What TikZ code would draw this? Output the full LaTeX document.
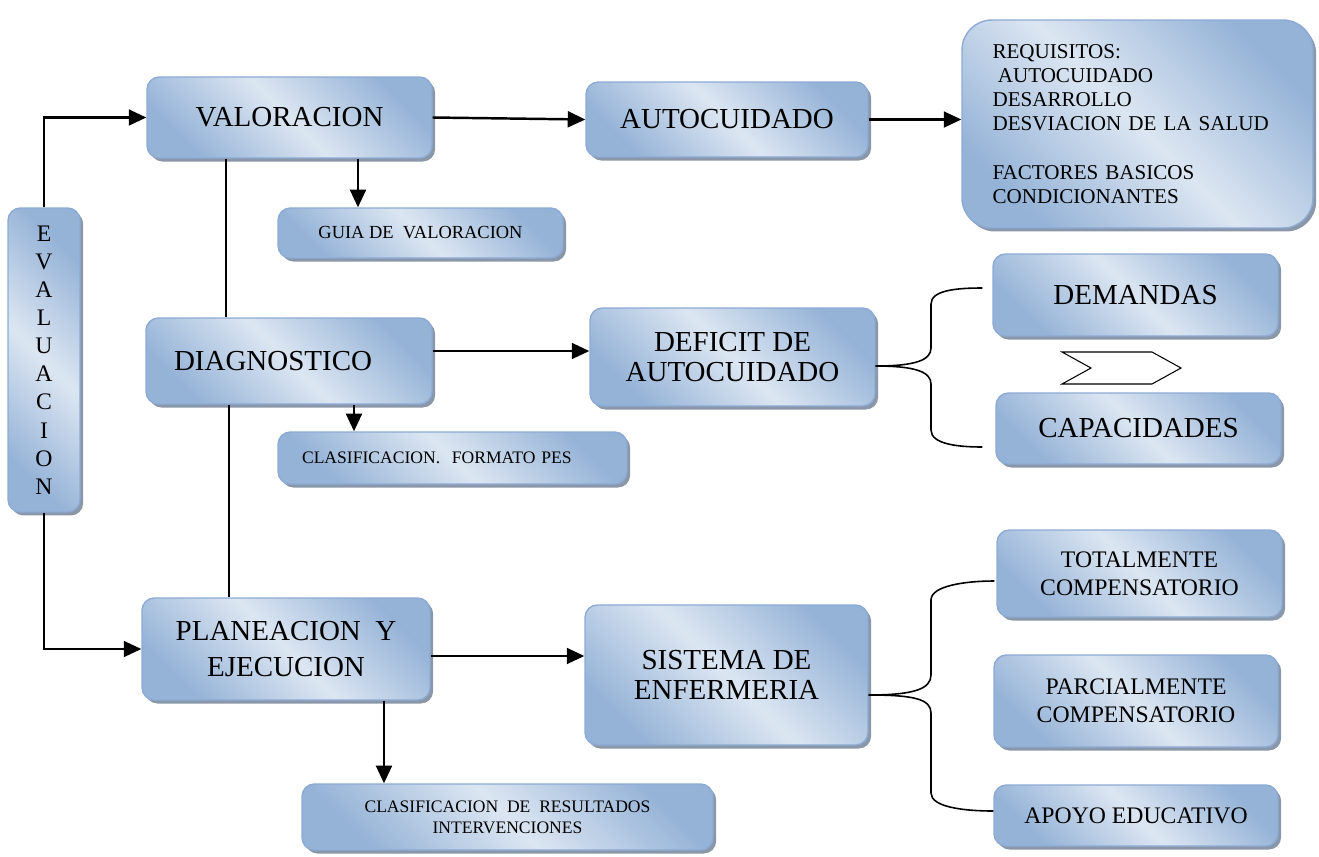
\documentclass[tikz,border=0pt]{standalone}
\usepackage{fontspec}
\setmainfont{Liberation Serif}
\usetikzlibrary{arrows.meta, positioning, shadows}

\definecolor{cajaoscuro}{HTML}{95B3D7}
\definecolor{cajaclaro}{HTML}{DCE6F2}
\definecolor{cajaborde}{HTML}{8DAAD4}
\definecolor{sombra}{HTML}{8A97A8}

\begin{document}
\begin{tikzpicture}[x=0.02cm,y=-0.02cm,
  caja/.style={draw=cajaborde, line width=0.8pt, rounded corners=7pt,
    left color=cajaoscuro, right color=cajaoscuro, middle color=cajaclaro, shading angle=135,
    drop shadow={shadow xshift=1.8pt, shadow yshift=-2pt, fill=sombra, opacity=1},
    align=center, inner sep=2pt},
  grande/.style={font=\fontsize{16.5}{17}\selectfont},
  media/.style={font=\fontsize{13.5}{16}\selectfont},
  chica/.style={font=\fontsize{10}{12}\selectfont},
  flecha/.style={-{Triangle[length=10pt,width=9pt]}, line width=1.4pt},
  linea/.style={line width=0.8pt},
  llave/.style={line width=0.9pt}]
\useasboundingbox (0,0) rectangle (1319,856);

% columna izquierda
\node[caja, media, minimum width=1.44cm, minimum height=6.08cm] (eval) at (44,360) {E\\V\\A\\L\\U\\A\\C\\I\\O\\N};
\node[caja, grande, minimum width=5.7cm, minimum height=1.62cm] (val) at (289.5,117.5) {VALORACION};
\node[caja, font=\fontsize{10.5}{12}\selectfont, minimum width=5.7cm, minimum height=1.0cm] (guia) at (420.5,233) {GUIA DE \ VALORACION};
\node[caja, grande, minimum width=5.72cm, minimum height=1.72cm, text width=4.6cm, align=left] (diag) at (289,361) {DIAGNOSTICO};
\node[caja, chica, minimum width=6.98cm, minimum height=1.04cm, text width=6.02cm, align=left] (pes) at (452.5,458) {CLASIFICACION. \ FORMATO PES};
\node[caja, font=\fontsize{16.5}{20}\selectfont, minimum width=5.76cm, minimum height=2.04cm] (plan) at (286,649) {PLANEACION \ Y\\EJECUCION};
\node[caja, chica, minimum width=8.22cm, minimum height=1.32cm] (res) at (507.5,817) {CLASIFICACION \ DE \ RESULTADOS\\INTERVENCIONES};

% columna central
\node[caja, grande, minimum width=5.64cm, minimum height=1.5cm] (auto) at (727,119.5) {AUTOCUIDADO};
\node[caja, grande, minimum width=5.7cm, minimum height=1.96cm] (def) at (732.5,357) {DEFICIT DE\\AUTOCUIDADO};
\node[caja, grande, minimum width=5.66cm, minimum height=2.8cm] (sis) at (726.5,675) {SISTEMA DE\\ENFERMERIA};

% columna derecha
\node[caja, rounded corners=17pt, font=\fontsize{12}{13.8}\selectfont, minimum width=7.02cm, minimum height=4.16cm, text width=5.8cm, align=left] (req) at (1137.5,124)
  {REQUISITOS:\\\hspace*{0.25em}AUTOCUIDADO\\DESARROLLO\\DESVIACION DE LA SALUD\\[13.8pt]FACTORES BASICOS\\CONDICIONANTES};
\node[caja, grande, minimum width=5.7cm, minimum height=1.64cm] (dem) at (1135.5,295) {DEMANDAS};
\node[caja, grande, minimum width=5.7cm, minimum height=1.42cm] (cap) at (1138.5,428.5) {CAPACIDADES};
\node[caja, media, minimum width=5.7cm, minimum height=1.74cm] (tot) at (1139.5,573.5) {TOTALMENTE\\COMPENSATORIO};
\node[caja, media, minimum width=5.68cm, minimum height=1.84cm] (par) at (1136,701) {PARCIALMENTE\\COMPENSATORIO};
\node[caja, media, minimum width=5.68cm, minimum height=1.22cm] (apo) at (1136,815.5) {APOYO EDUCATIVO};

% conectores
\draw[flecha] (eval.north) |- (val.west);
\draw[flecha] (eval.south) |- (plan.west);
\draw[flecha] (val.east) -- (auto.west);
\draw[flecha] ([xshift=1.37cm]val.south) -- ([xshift=1.37cm]val.south |- guia.north);
\draw[linea] ([xshift=-1.27cm]val.south) -- ([xshift=-1.27cm]val.south |- diag.north);
\draw[flecha] (auto.east) -- (auto.east -| req.west);
\draw[flecha] ([yshift=0.2cm]diag.east) -- ([yshift=0.2cm]diag.east -| def.west);
\draw[flecha] ([xshift=1.3cm]diag.south) -- ([xshift=1.3cm]diag.south |- pes.north);
\draw[linea] ([xshift=-1.2cm]diag.south) -- ([xshift=-1.2cm]diag.south |- plan.north);
\draw[flecha] ([yshift=-0.14cm]plan.east) -- ([yshift=-0.14cm]plan.east -| sis.west);
\draw[flecha] ([xshift=1.96cm]plan.south) -- ([xshift=1.96cm]plan.south |- res.north);

% llaves
\draw[llave] ([yshift=-0.18cm]def.east) .. controls +(40,0) and +(0,12) .. (931,348) -- (931,304)
  .. controls +(0,-14) and +(-25,0) .. ([xshift=-0.2cm,yshift=0.14cm]dem.west);
\draw[llave] ([yshift=-0.18cm]def.east) .. controls +(40,0) and +(0,-12) .. (931,384) -- (931,430)
  .. controls +(0,14) and +(-25,0) .. ([xshift=-0.26cm,yshift=-0.37cm]cap.west);
\draw[llave] ([yshift=-0.4cm]sis.east) .. controls +(45,0) and +(0,14) .. (931,675) -- (931,600)
  .. controls +(0,-14) and +(-30,0) .. ([xshift=-0.04cm,yshift=-0.15cm]tot.west);
\draw[llave] ([yshift=-0.4cm]sis.east) .. controls +(45,0) and +(0,-14) .. (931,713) -- (931,793)
  .. controls +(0,14) and +(-30,0) .. ([yshift=0.09cm]apo.west);

% flecha entre demandas y capacidades
\draw[line width=0.6pt] (1062,352) -- (1152,352) -- (1181,368) -- (1152,384) -- (1062,384) -- (1091,368) -- cycle;
\end{tikzpicture}
\end{document}
